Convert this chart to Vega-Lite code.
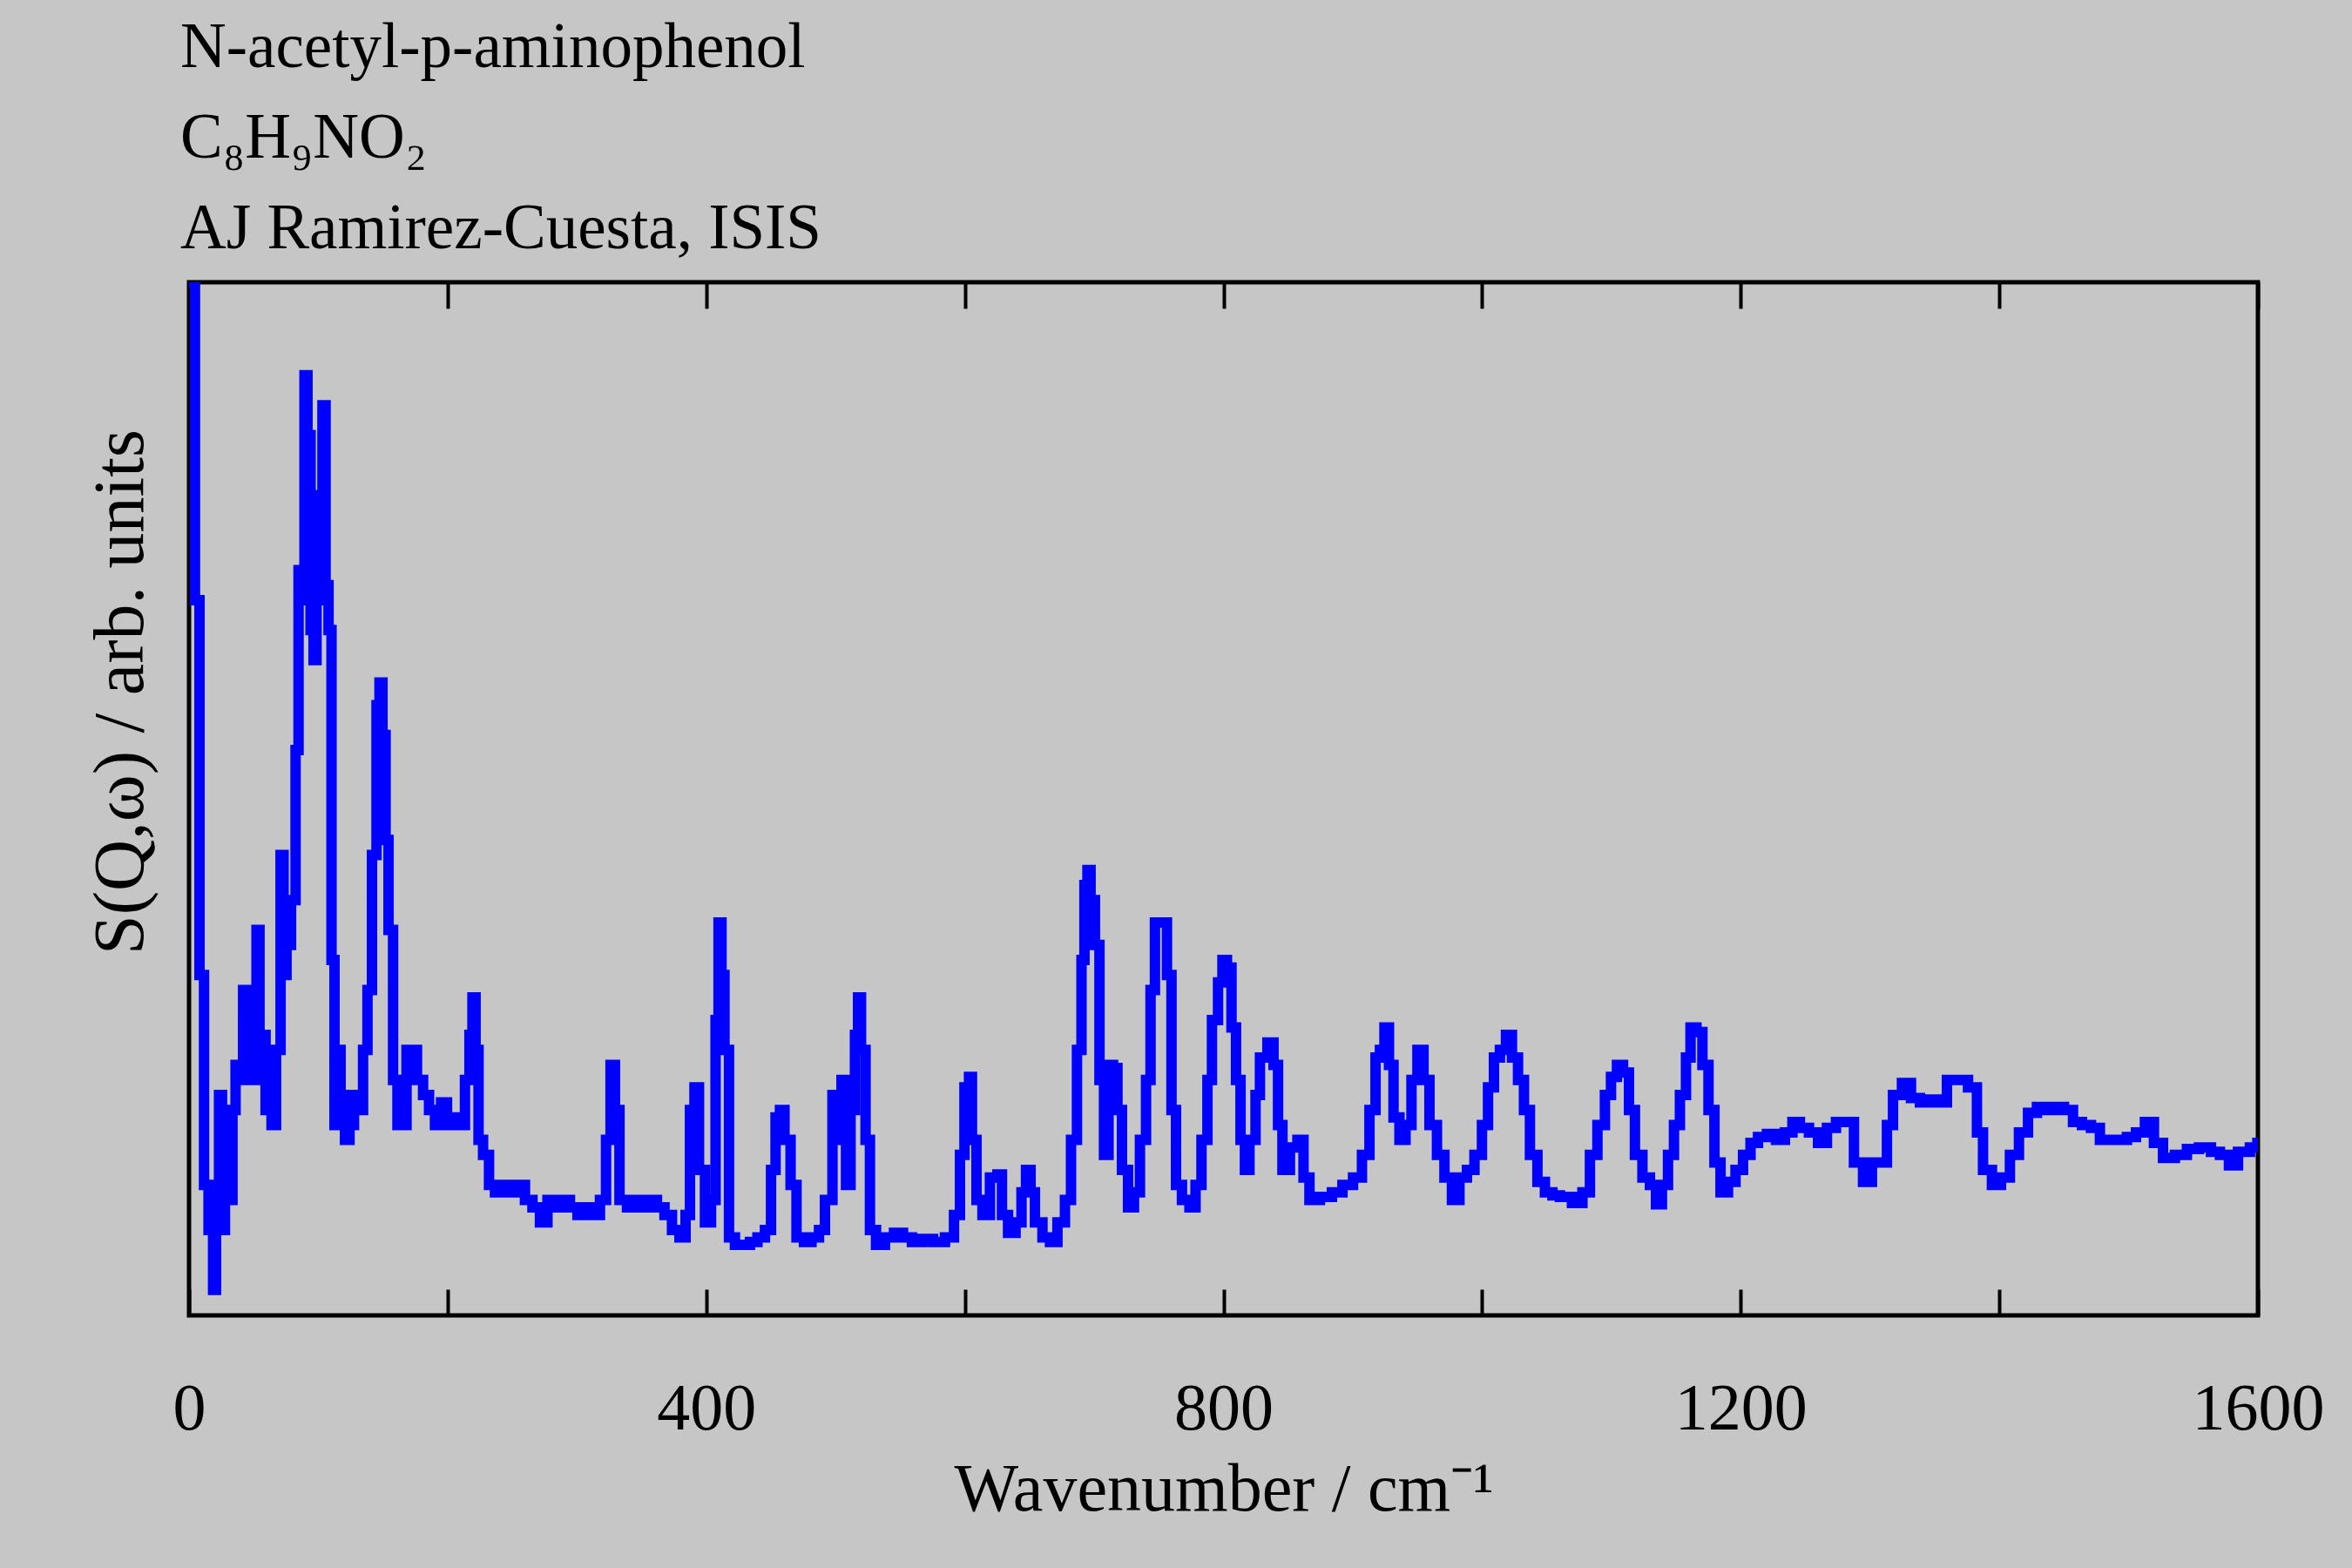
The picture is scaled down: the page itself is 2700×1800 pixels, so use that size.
{
"$schema":"https://vega.github.io/schema/vega-lite/v6.json",
"width":2375,"height":1186,
"autosize":"none",
"padding":{"left":217,"top":324,"right":108,"bottom":290},
"background":"#c6c6c6",
"config":{"view":{"stroke":"black","strokeWidth":5},"font":"Liberation Serif"},
"title":{"text":["N-acetyl-p-aminophenol","C₈H₉NO₂","AJ Ramirez-Cuesta, ISIS"],"anchor":"start","frame":"group","font":"Liberation Serif","fontSize":73,"fontWeight":"normal","color":"black","lineHeight":104,"offset":22,"dx":-10},
"data":{"values":[
{"x":0,"y":689},{"x":1.2,"y":689},{"x":4.6,"y":477},{"x":8.1,"y":227},{"x":11.6,"y":87},{"x":15.1,"y":57},{"x":18.6,"y":17},{"x":20.9,"y":77},{"x":23.2,"y":147},{"x":25.5,"y":57},{"x":27.8,"y":117},{"x":30.2,"y":77},{"x":33.6,"y":137},{"x":36,"y":167},{"x":39.4,"y":157},{"x":41.8,"y":217},{"x":44.1,"y":177},{"x":46.4,"y":197},{"x":48.7,"y":157},{"x":52.2,"y":257},{"x":54.5,"y":177},{"x":56.8,"y":187},{"x":59.2,"y":137},{"x":61.5,"y":177},{"x":63.8,"y":127},{"x":67.3,"y":177},{"x":70.8,"y":307},{"x":73.1,"y":227},{"x":75.4,"y":247},{"x":78.9,"y":277},{"x":82.4,"y":377},{"x":84.7,"y":497},{"x":87,"y":477},{"x":89.3,"y":627},{"x":91.6,"y":587},{"x":94,"y":457},{"x":96.3,"y":437},{"x":98.6,"y":477},{"x":100.9,"y":547},{"x":103.2,"y":607},{"x":105.6,"y":487},{"x":107.9,"y":457},{"x":110.2,"y":237},{"x":112.5,"y":127},{"x":114.8,"y":177},{"x":117.2,"y":147},{"x":120.6,"y":117},{"x":124.1,"y":127},{"x":127.6,"y":147},{"x":131.1,"y":137},{"x":134.6,"y":177},{"x":138,"y":217},{"x":141.5,"y":307},{"x":145,"y":407},{"x":147.3,"y":422},{"x":149.6,"y":387},{"x":152,"y":317},{"x":154.3,"y":257},{"x":157.8,"y":157},{"x":161.2,"y":127},{"x":164.7,"y":127},{"x":168.2,"y":177},{"x":172.8,"y":177},{"x":176.3,"y":157},{"x":181,"y":147},{"x":185.6,"y":137},{"x":190.2,"y":127},{"x":194.9,"y":142},{"x":199.5,"y":127},{"x":204.2,"y":132},{"x":208.8,"y":127},{"x":213.4,"y":157},{"x":216.9,"y":187},{"x":219.2,"y":212},{"x":221.6,"y":177},{"x":223.9,"y":117},{"x":227.4,"y":107},{"x":232,"y":87},{"x":236.6,"y":82},{"x":242.4,"y":87},{"x":248.2,"y":82},{"x":254,"y":87},{"x":259.8,"y":77},{"x":265.6,"y":72},{"x":271.4,"y":62},{"x":277.2,"y":77},{"x":283,"y":72},{"x":288.8,"y":77},{"x":294.6,"y":72},{"x":300.4,"y":67},{"x":306.2,"y":72},{"x":312,"y":67},{"x":317.8,"y":77},{"x":322.5,"y":117},{"x":326,"y":167},{"x":329.4,"y":137},{"x":332.9,"y":77},{"x":338.7,"y":72},{"x":344.5,"y":77},{"x":350.3,"y":72},{"x":356.1,"y":77},{"x":361.9,"y":72},{"x":367.7,"y":67},{"x":373.5,"y":57},{"x":379.3,"y":52},{"x":384,"y":67},{"x":387.4,"y":137},{"x":390.9,"y":152},{"x":394.4,"y":97},{"x":399,"y":62},{"x":403.7,"y":77},{"x":407.2,"y":197},{"x":409.5,"y":262},{"x":411.8,"y":227},{"x":414.1,"y":177},{"x":417.6,"y":52},{"x":422.2,"y":47},{"x":428,"y":47},{"x":433.8,"y":49},{"x":439.6,"y":52},{"x":445.4,"y":57},{"x":450.1,"y":97},{"x":453.6,"y":132},{"x":457,"y":137},{"x":460.5,"y":117},{"x":465.2,"y":87},{"x":469.8,"y":52},{"x":475.6,"y":49},{"x":481.4,"y":52},{"x":487.2,"y":57},{"x":491.8,"y":77},{"x":497.6,"y":147},{"x":501.1,"y":117},{"x":504.6,"y":157},{"x":508.1,"y":87},{"x":511.6,"y":137},{"x":515,"y":187},{"x":517.4,"y":212},{"x":519.7,"y":177},{"x":523.2,"y":117},{"x":526.6,"y":57},{"x":531.3,"y":47},{"x":538.2,"y":52},{"x":545.2,"y":55},{"x":552.2,"y":52},{"x":559.1,"y":49},{"x":567.2,"y":51},{"x":575.4,"y":49},{"x":584.6,"y":52},{"x":591.6,"y":67},{"x":596.2,"y":107},{"x":599.7,"y":152},{"x":603.2,"y":159},{"x":605.5,"y":117},{"x":609,"y":77},{"x":613.6,"y":67},{"x":619.4,"y":92},{"x":625.2,"y":94},{"x":628.7,"y":67},{"x":633.4,"y":55},{"x":639.2,"y":62},{"x":643.8,"y":82},{"x":647.3,"y":97},{"x":650.8,"y":82},{"x":654.2,"y":62},{"x":660,"y":52},{"x":665.8,"y":49},{"x":671.6,"y":62},{"x":677.4,"y":77},{"x":682.1,"y":117},{"x":686.7,"y":177},{"x":690.2,"y":237},{"x":692.5,"y":287},{"x":694.8,"y":297},{"x":697.2,"y":277},{"x":700.6,"y":247},{"x":704.1,"y":157},{"x":707.6,"y":107},{"x":711.1,"y":167},{"x":714.6,"y":165},{"x":718,"y":137},{"x":721.5,"y":97},{"x":726.2,"y":72},{"x":730.8,"y":82},{"x":735.4,"y":117},{"x":740.1,"y":157},{"x":743.6,"y":217},{"x":747,"y":262},{"x":752.8,"y":262},{"x":756.3,"y":227},{"x":759.8,"y":137},{"x":763.3,"y":87},{"x":767.9,"y":77},{"x":773.7,"y":72},{"x":778.4,"y":87},{"x":783,"y":117},{"x":787.6,"y":157},{"x":791.1,"y":197},{"x":795.8,"y":222},{"x":799.2,"y":237},{"x":802.7,"y":232},{"x":806.2,"y":192},{"x":809.7,"y":157},{"x":813.2,"y":117},{"x":816.6,"y":97},{"x":820.1,"y":117},{"x":824.8,"y":147},{"x":828.2,"y":172},{"x":834,"y":182},{"x":838.7,"y":167},{"x":842.2,"y":127},{"x":845.6,"y":97},{"x":851.4,"y":112},{"x":857.2,"y":117},{"x":861.9,"y":92},{"x":866.5,"y":77},{"x":874.6,"y":79},{"x":883.9,"y":82},{"x":892,"y":87},{"x":900.2,"y":92},{"x":907.1,"y":107},{"x":912.9,"y":137},{"x":917.6,"y":172},{"x":921,"y":177},{"x":924.5,"y":192},{"x":928,"y":167},{"x":931.5,"y":132},{"x":936.1,"y":117},{"x":940.8,"y":127},{"x":945.4,"y":157},{"x":950,"y":177},{"x":954.7,"y":157},{"x":959.3,"y":127},{"x":965.1,"y":107},{"x":970.9,"y":92},{"x":976.7,"y":77},{"x":982.5,"y":92},{"x":988.3,"y":97},{"x":994.1,"y":107},{"x":999.9,"y":127},{"x":1004.6,"y":152},{"x":1009.2,"y":172},{"x":1013.8,"y":177},{"x":1018.5,"y":187},{"x":1023.1,"y":172},{"x":1027.8,"y":157},{"x":1032.4,"y":137},{"x":1037,"y":107},{"x":1042.8,"y":89},{"x":1048.6,"y":82},{"x":1054.4,"y":80},{"x":1060.2,"y":79},{"x":1069.5,"y":75},{"x":1077.6,"y":82},{"x":1083.4,"y":107},{"x":1089.2,"y":127},{"x":1095,"y":147},{"x":1099.7,"y":159},{"x":1104.3,"y":167},{"x":1109,"y":162},{"x":1113.6,"y":137},{"x":1118.2,"y":107},{"x":1124,"y":92},{"x":1129.8,"y":87},{"x":1134.5,"y":74},{"x":1139.1,"y":87},{"x":1143.8,"y":107},{"x":1148.4,"y":127},{"x":1153,"y":147},{"x":1157.7,"y":172},{"x":1161.2,"y":192},{"x":1165.8,"y":189},{"x":1170.4,"y":167},{"x":1175.1,"y":137},{"x":1179.7,"y":102},{"x":1184.4,"y":82},{"x":1190.2,"y":89},{"x":1196,"y":97},{"x":1201.8,"y":107},{"x":1207.6,"y":115},{"x":1213.4,"y":119},{"x":1220.3,"y":121},{"x":1227.3,"y":117},{"x":1234.2,"y":122},{"x":1240,"y":129},{"x":1245.8,"y":125},{"x":1252.8,"y":122},{"x":1259.8,"y":115},{"x":1266.7,"y":125},{"x":1273.7,"y":129},{"x":1280.6,"y":129},{"x":1287.6,"y":102},{"x":1294.6,"y":89},{"x":1301.5,"y":102},{"x":1308.5,"y":102},{"x":1313.1,"y":127},{"x":1317.8,"y":147},{"x":1324.7,"y":155},{"x":1331.7,"y":145},{"x":1338.6,"y":142},{"x":1345.6,"y":144},{"x":1352.6,"y":142},{"x":1359.5,"y":157},{"x":1367.6,"y":157},{"x":1375.8,"y":152},{"x":1382.7,"y":122},{"x":1387.4,"y":97},{"x":1394.3,"y":87},{"x":1401.3,"y":92},{"x":1408.2,"y":107},{"x":1415.2,"y":122},{"x":1422.2,"y":135},{"x":1429.1,"y":139},{"x":1436.1,"y":137},{"x":1443,"y":139},{"x":1450,"y":137},{"x":1457,"y":129},{"x":1463.9,"y":127},{"x":1470.9,"y":125},{"x":1477.8,"y":117},{"x":1484.8,"y":117},{"x":1491.8,"y":117},{"x":1498.7,"y":119},{"x":1505.7,"y":122},{"x":1512.6,"y":129},{"x":1519.6,"y":115},{"x":1526.6,"y":105},{"x":1535.8,"y":107},{"x":1545.1,"y":111},{"x":1554.4,"y":112},{"x":1563.7,"y":109},{"x":1570.6,"y":107},{"x":1577.6,"y":100},{"x":1584.6,"y":109},{"x":1593.8,"y":112},{"x":1599.6,"y":115},{"x":1600,"y":115}
]},
"layer":[
{"mark":{"type":"line","interpolate":"step-after","color":"#0000ff","strokeWidth":12,"clip":true},
 "encoding":{
  "x":{"field":"x","type":"quantitative","scale":{"domain":[0,1600],"nice":false},
   "axis":{"values":[0,200,400,600,800,1000,1200,1400,1600],"labelExpr":"datum.value % 400 == 0 ? datum.label : ''","format":"d","labelFlush":false,"tickSize":-30,"tickWidth":4,"tickColor":"black","domain":false,"grid":false,"labelFont":"Liberation Serif","labelFontSize":76,"labelColor":"black","labelPadding":100,"title":"Wavenumber / cm⁻¹","titleFont":"Liberation Serif","titleFontSize":78,"titleFontWeight":"normal","titleColor":"black","titlePadding":16}},
  "y":{"field":"y","type":"quantitative","scale":{"domain":[0,689],"nice":false},
   "axis":{"values":[0],"labelColor":"transparent","labelFontSize":10,"tickSize":0,"tickColor":"transparent","domain":false,"grid":false,"title":"S(Q,ω) / arb. units","titleFont":"Liberation Serif","titleFontSize":82,"titleFontWeight":"normal","titleColor":"black","titlePadding":30,"titleY":470}}}},
{"mark":{"type":"line","strokeOpacity":0},
 "encoding":{
  "x":{"field":"x","type":"quantitative","axis":{"orient":"top","values":[0,200,400,600,800,1000,1200,1400,1600],"labels":false,"tickSize":-30,"tickWidth":4,"tickColor":"black","domain":false,"grid":false,"title":null}},
  "y":{"field":"y","type":"quantitative"}}}
],
"resolve":{"axis":{"x":"independent"}}
}
